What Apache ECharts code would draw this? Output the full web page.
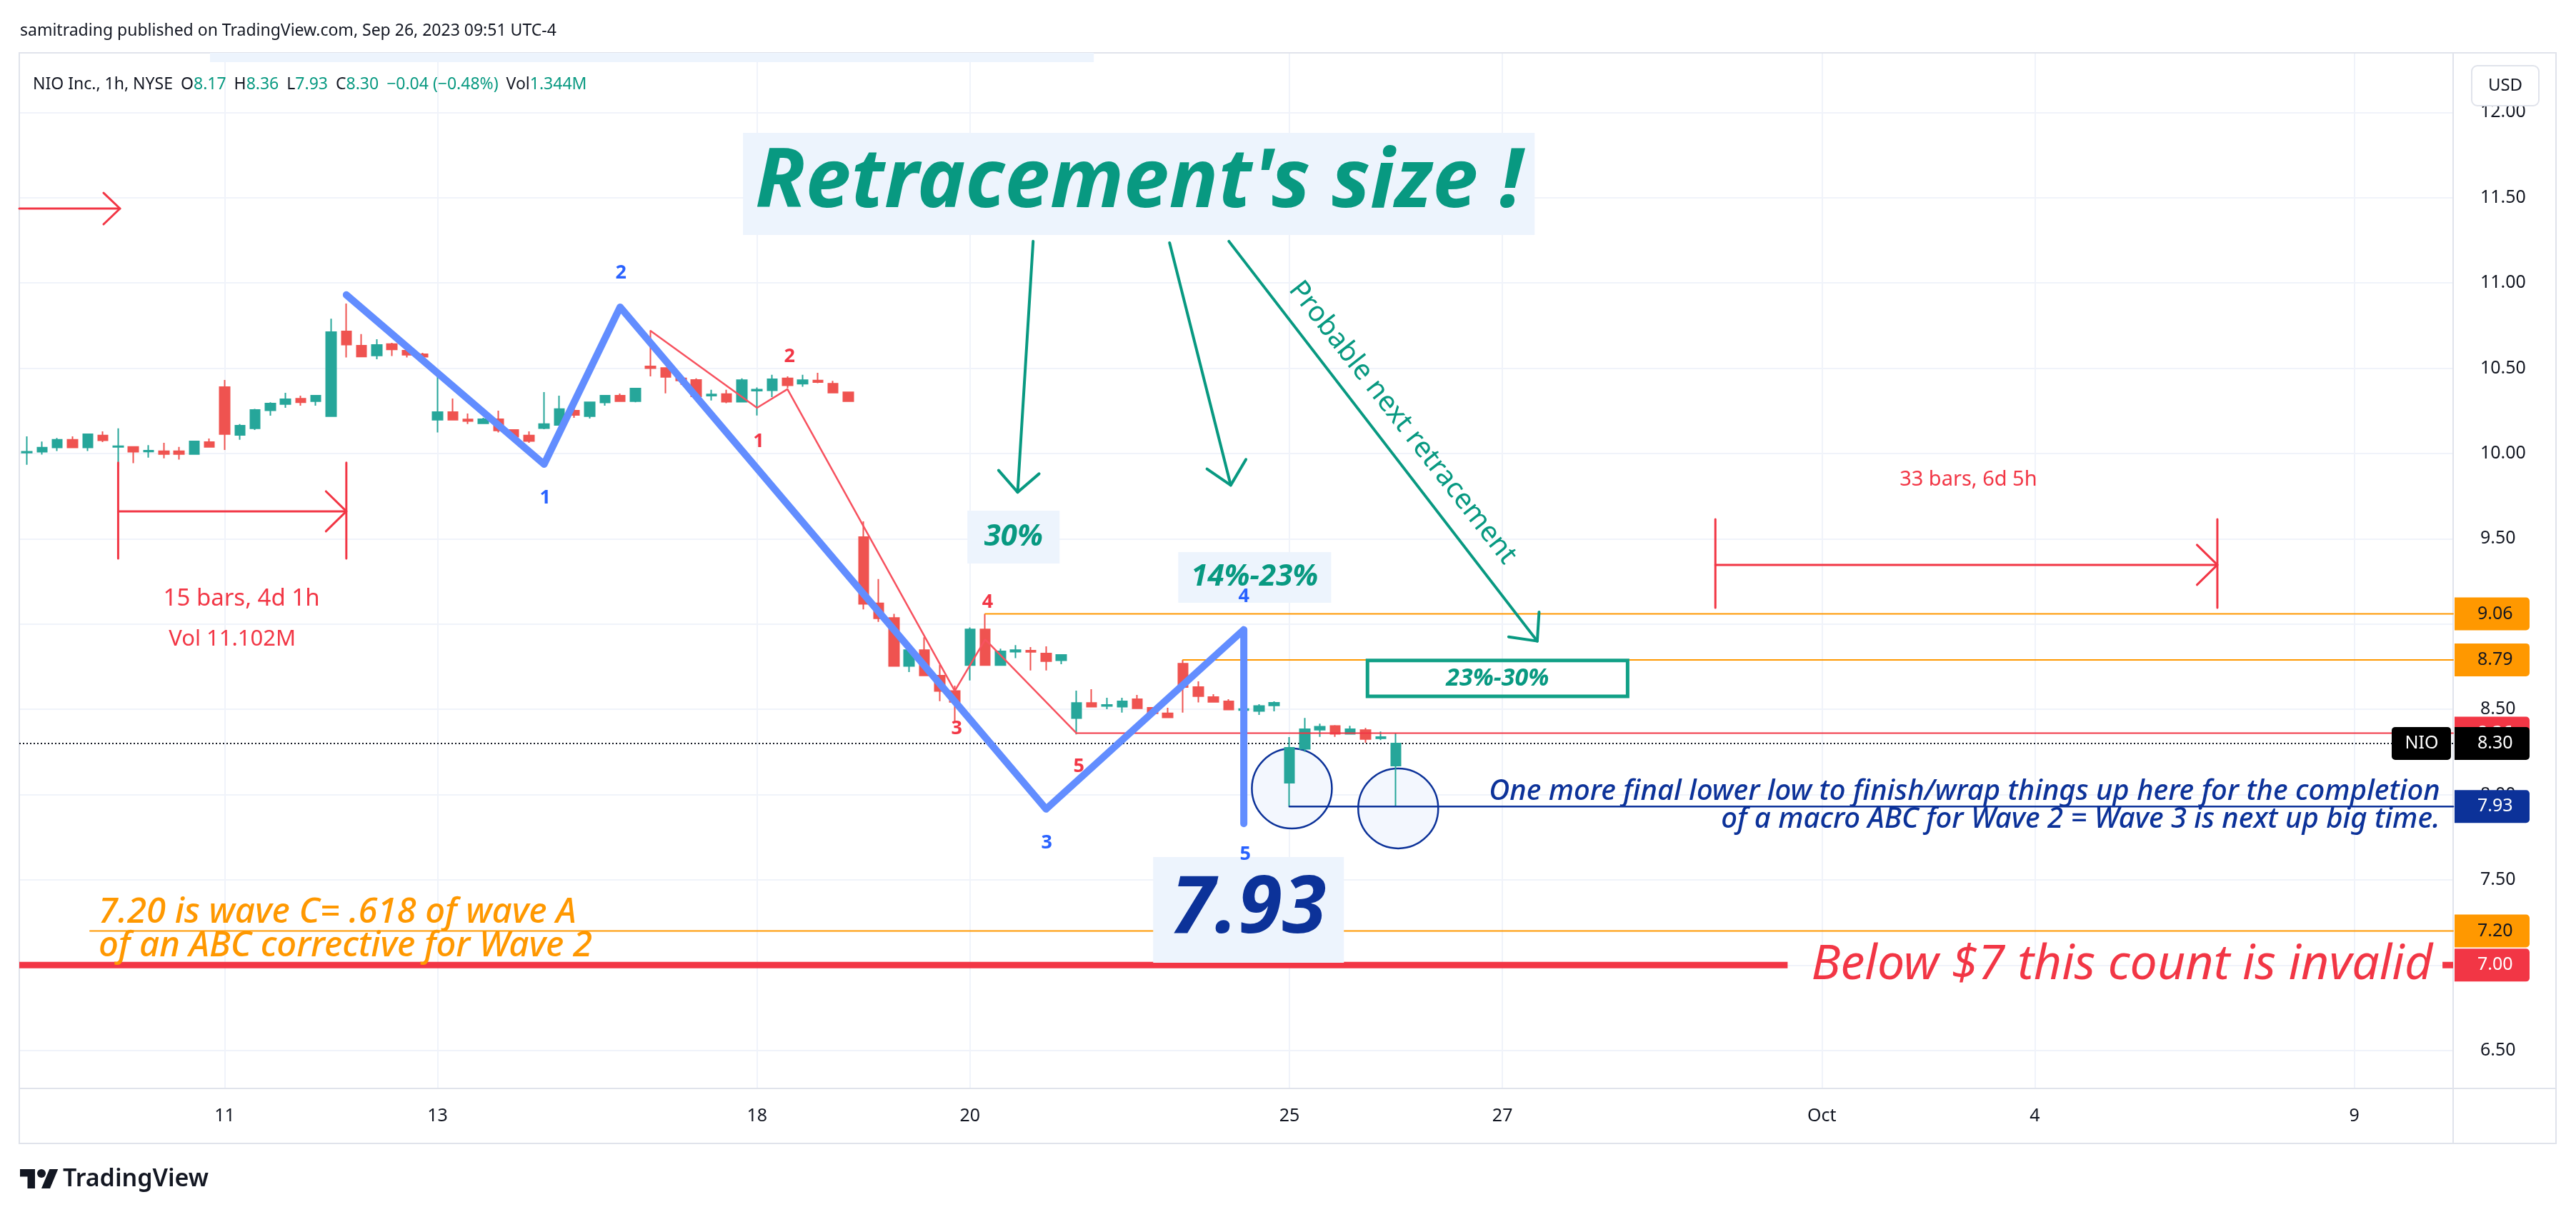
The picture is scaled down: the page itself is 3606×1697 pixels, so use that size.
<!DOCTYPE html>
<html><head><meta charset="utf-8">
<script src="https://cdn.jsdelivr.net/npm/echarts@6/dist/echarts.min.js"></script>
<style>html,body{margin:0;padding:0;background:#fff;}#c{width:3606px;height:1697px;}</style>
</head><body><div id="c"></div>
<script>
// ---------- data ----------
const tickIdx    = [13, 27, 48, 62, 83, 97, 118, 132, 153];
const tickLabels = ['11', '13', '18', '20', '25', '27', 'Oct', '4', '9'];
const priceTicks = [6.5, 7, 7.5, 8, 8.5, 9, 9.5, 10, 10.5, 11, 11.5, 12];

const open = [10.005,10.010,10.035,10.080,10.035,10.105,10.038,10.038,10.011,10.013,
  10.013,9.997,10.067,10.389,10.109,10.147,10.253,10.290,10.321,10.306,
  10.219,10.716,10.632,10.575,10.641,10.603,10.582,10.198,10.243,10.200,
  10.177,10.201,10.138,10.105,10.148,10.167,10.251,10.219,10.299,10.339,
  10.306,10.511,10.501,10.440,10.431,10.339,10.348,10.303,10.368,10.370,
  10.440,10.409,10.428,10.409,10.359,9.510,9.121,9.036,8.754,8.847,
  8.697,8.607,8.759,8.969,8.759,8.838,8.844,8.827,8.787,8.448,
  8.537,8.519,8.515,8.559,8.509,8.477,8.768,8.630,8.572,8.547,
  8.495,8.490,8.523,8.069,8.268,8.380,8.402,8.356,8.378,8.330,
  8.170];
const close = [10.010,10.034,10.080,10.035,10.113,10.077,10.043,10.010,10.017,9.997,
  9.997,10.071,10.039,10.114,10.163,10.255,10.293,10.318,10.300,10.339,
  10.712,10.638,10.568,10.636,10.610,10.579,10.567,10.243,10.198,10.190,
  10.201,10.135,10.098,10.073,10.172,10.260,10.226,10.300,10.339,10.306,
  10.381,10.500,10.449,10.428,10.335,10.346,10.303,10.430,10.375,10.435,
  10.400,10.430,10.419,10.357,10.307,9.118,9.034,8.754,8.847,8.698,
  8.607,8.544,8.969,8.759,8.840,8.847,8.837,8.782,8.819,8.537,
  8.515,8.526,8.547,8.506,8.477,8.452,8.630,8.577,8.544,8.498,
  8.502,8.519,8.538,8.275,8.383,8.398,8.356,8.383,8.326,8.337,
  8.300];
const low = [9.934,9.993,10.014,10.035,10.014,10.067,9.923,9.943,9.976,9.972,
  9.964,9.992,10.039,10.021,10.080,10.138,10.222,10.268,10.280,10.280,
  10.219,10.563,10.568,10.553,10.571,10.563,10.554,10.123,10.198,10.172,
  10.172,10.123,10.081,10.063,10.142,10.167,10.209,10.205,10.280,10.306,
  10.300,10.452,10.353,10.403,10.311,10.311,10.295,10.303,10.223,10.331,
  10.384,10.391,10.412,10.357,10.307,9.086,9.013,8.754,8.718,8.698,
  8.548,8.425,8.669,8.759,8.759,8.800,8.728,8.728,8.764,8.353,
  8.515,8.501,8.481,8.506,8.463,8.452,8.481,8.540,8.540,8.498,
  8.453,8.467,8.488,7.930,8.251,8.338,8.338,8.356,8.304,8.320,
  7.930];
const high = [10.100,10.070,10.091,10.100,10.113,10.130,10.147,10.040,10.049,10.063,
  10.038,10.071,10.088,10.431,10.172,10.261,10.300,10.356,10.339,10.339,
  10.790,10.879,10.700,10.670,10.649,10.618,10.590,10.461,10.322,10.234,
  10.209,10.251,10.142,10.130,10.360,10.339,10.272,10.300,10.339,10.352,
  10.381,10.720,10.501,10.458,10.440,10.373,10.373,10.440,10.387,10.461,
  10.452,10.461,10.473,10.426,10.359,9.602,9.264,9.060,8.879,8.923,
  8.760,8.639,8.980,9.060,8.855,8.876,8.865,8.869,8.819,8.609,
  8.618,8.568,8.568,8.584,8.509,8.509,8.790,8.664,8.589,8.559,
  8.523,8.530,8.547,8.337,8.449,8.416,8.407,8.403,8.391,8.370,
  8.360];

// drawings (bar index, price)
const blueWave = [[21,10.93],[34,9.937],[39,10.858],[67,7.915],[80,8.967],[80,7.83]];
const redWave  = [[41,10.719],[48,10.268],[50,10.377],[61,8.608],[63,8.909],[69,8.36]];
const levels = { r906: 9.06, r879: 8.79, s836: 8.36, last: 8.30, low793: 7.93, c720: 7.20, inv700: 7.00 };
const circles = [[83.16, 8.036], [90.15, 7.919]];

// ---------- chart ----------
const F = '"Noto Sans", "Open Sans", sans-serif';
const TEAL = '#089981', RED = '#f23645', ORANGE = '#ff9800', NAVY = '#0c3299', BLUE = '#628dff';
const XMIN = -0.5, XMAX = 159.5, YMIN = 6.277, YMAX = 12.349;

const chart = echarts.init(document.getElementById('c'), null, { renderer: 'canvas', width: 3606, height: 1697 });

function seg(pts, color, width, extra) {
  return Object.assign({ type: 'line', data: pts, symbol: 'none', showSymbol: false, silent: true,
    animation: false, z: 5, lineStyle: { color: color, width: width, cap: 'round', join: 'round' } }, extra || {});
}

const candleData = open.map((o, i) => [i, o, close[i], low[i], high[i]]);

const series = [
  { type: 'scatter', data: circles, symbolSize: 112, silent: true, z: 1, animation: false,
    itemStyle: { color: '#f3f7fe', borderColor: NAVY, borderWidth: 2.5, opacity: 1 } },
  { type: 'candlestick', data: candleData, barWidth: 14, z: 3, animation: false,
    itemStyle: { color: '#26a69a', color0: '#ef5350', borderColor: '#26a69a', borderColor0: '#ef5350', borderWidth: 2 } },
  seg([[XMIN, levels.last], [XMAX, levels.last]], '#131722', 2, { z: 2, lineStyle: { color: '#131722', width: 2, type: [2, 3] } }),
  seg([[63, levels.r906], [XMAX, levels.r906]], ORANGE, 2),
  seg([[76, levels.r879], [XMAX, levels.r879]], ORANGE, 2),
  seg([[4.15, levels.c720], [XMAX, levels.c720]], ORANGE, 2),
  seg([[69, levels.s836], [XMAX, levels.s836]], RED, 2),
  seg([[83, levels.low793], [XMAX, levels.low793]], NAVY, 2.5),
  seg([[XMIN, levels.inv700], [115.75, levels.inv700]], RED, 9, { lineStyle: { color: RED, width: 9, cap: 'butt' } }),
  seg([[158.8, levels.inv700], [XMAX, levels.inv700]], RED, 9, { lineStyle: { color: RED, width: 9, cap: 'butt' } }),
  seg(redWave, '#f7525f', 2.5),
  seg(blueWave, BLUE, 10, { z: 6 }),
  seg([[6, 9.946], [6, 9.384]], RED, 3),
  seg([[21, 9.946], [21, 9.384]], RED, 3),
  seg([[6, 9.661], [21, 9.661]], RED, 3),
  seg([[19.66, 9.778], [21, 9.661], [19.66, 9.544]], RED, 3),
  seg([[111, 9.615], [111, 9.095]], RED, 3),
  seg([[144, 9.615], [144, 9.095]], RED, 3),
  seg([[111, 9.347], [144, 9.347]], RED, 3),
  seg([[142.66, 9.464], [144, 9.347], [142.66, 9.23]], RED, 3),
  seg([[XMIN, 11.436], [6.12, 11.436]], RED, 3),
  seg([[5.04, 11.528], [6.12, 11.436], [5.04, 11.344]], RED, 3),
  seg([[66.15, 11.244], [65.13, 9.773]], TEAL, 4),
  seg([[63.88, 9.901], [65.13, 9.773], [66.54, 9.881]], TEAL, 4),
  seg([[75.12, 11.235], [79.14, 9.814]], TEAL, 4),
  seg([[77.58, 9.909], [79.14, 9.814], [80.14, 9.965]], TEAL, 4),
  seg([[79.02, 11.244], [99.29, 8.90]], TEAL, 4),
  seg([[97.41, 8.925], [99.29, 8.90], [99.41, 9.07]], TEAL, 4)
];

const option = {
  animation: false,
  backgroundColor: '#ffffff',
  grid: { left: 27, right: 172, top: 74, bottom: 173, show: false },
  xAxis: {
    type: 'value', min: XMIN, max: XMAX,
    axisLine: { show: false }, axisTick: { show: false, customValues: tickIdx },
    axisLabel: { customValues: tickIdx, margin: 26, color: '#131722', fontSize: 25, fontFamily: F,
      formatter: v => tickLabels[tickIdx.indexOf(Math.round(v))] },
    splitLine: { show: true, lineStyle: { color: '#f0f3fa', width: 2 } }
  },
  yAxis: {
    type: 'value', position: 'right', min: YMIN, max: YMAX, scale: true,
    axisLine: { show: false }, axisTick: { show: false, customValues: priceTicks },
    axisLabel: { customValues: priceTicks, margin: 38, align: 'left', color: '#131722', fontSize: 25, fontFamily: F,
      formatter: v => v.toFixed(2) },
    splitLine: { show: true, lineStyle: { color: '#f0f3fa', width: 2 } }
  },
  series: series
};
chart.setOption(option);

// ---------- annotations (placed through the chart's own scales) ----------
const P = (x, y) => chart.convertToPixel({ gridIndex: 0 }, [x, y]);
const els = [];
function text(x, y, str, font, fill, align, valign, extra) {
  const e = { type: 'text', z: 60, silent: true,
    style: { text: str, x: x, y: y, font: font, fill: fill, align: align || 'center', verticalAlign: valign || 'middle',
      textAlign: align || 'center', textVerticalAlign: valign || 'middle' } };
  return Object.assign(e, extra || {});
}
function box(a, b, style, z) {
  const p1 = P(a[0], a[1]), p2 = P(b[0], b[1]);
  els.push({ type: 'rect', z: z || 40, silent: true,
    shape: { x: Math.min(p1[0], p2[0]), y: Math.min(p1[1], p2[1]), width: Math.abs(p2[0] - p1[0]), height: Math.abs(p2[1] - p1[1]) },
    style: style });
}
function note(at, str, font, fill, align, valign, extra) {
  const p = P(at[0], at[1]);
  els.push(text(p[0], p[1], str, font, fill, align, valign, extra));
}
const BOXBG = '#edf4fd';
const plotL = P(XMIN, YMAX)[0], plotR = P(XMAX, YMAX)[0], plotT = P(XMIN, YMAX)[1], plotB = P(XMIN, YMIN)[1];

// frame
els.push({ type: 'rect', z: 1, silent: true, shape: { x: plotL, y: plotT, width: 3578 - plotL, height: 1601 - plotT },
  style: { fill: 'none', stroke: '#e0e3eb', lineWidth: 2 } });
els.push({ type: 'line', z: 1, silent: true, shape: { x1: plotR, y1: plotT, x2: plotR, y2: 1601 }, style: { stroke: '#e0e3eb', lineWidth: 2 } });
els.push({ type: 'line', z: 1, silent: true, shape: { x1: plotL, y1: plotB, x2: 3578, y2: plotB }, style: { stroke: '#e0e3eb', lineWidth: 2 } });

// header
els.push(text(28, 43, 'samitrading published on TradingView.com, Sep 26, 2023 09:51 UTC-4', '23px ' + F, '#131722', 'left'));
els.push({ type: 'text', z: 60, silent: true, style: {
  text: '{k|NIO Inc., 1h, NYSE}{s| }{k|O}{v|' + open[90].toFixed(2) + '}{s| }{k|H}{v|' + high[90].toFixed(2) + '}{s| }{k|L}{v|' + low[90].toFixed(2) +
        '}{s| }{k|C}{v|' + close[90].toFixed(2) + '}{s| }{v|\u22120.04 (\u22120.48%)}{s| }{k|Vol}{v|1.344M}',
  x: 46, y: 118, align: 'left', verticalAlign: 'middle', textAlign: 'left', textVerticalAlign: 'middle',
  rich: { k: { fill: '#131722', font: '23px ' + F }, v: { fill: TEAL, font: '23px ' + F }, s: { font: '23px ' + F, width: 11 } } } });
box([12.04, 12.295], [70.14, YMAX], { fill: BOXBG }, 30);

// USD button
els.push({ type: 'rect', z: 70, silent: true, shape: { x: 3460, y: 92, width: 94, height: 56, r: 8 }, style: { fill: '#fff', stroke: '#e0e3eb', lineWidth: 2 } });
els.push(text(3507, 120, 'USD', '24px ' + F, '#131722', 'center', 'middle', { z: 71 }));

// TradingView logo
(function () {
  const s = 1.5, ox = 28, oy = 1631;
  const tr = pts => pts.map(p => [ox + p[0] * s, oy + p[1] * s]);
  els.push({ type: 'polygon', z: 60, silent: true, shape: { points: tr([[0,4],[14,4],[14,22],[7,22],[7,11],[0,11]]) }, style: { fill: '#131722' } });
  els.push({ type: 'polygon', z: 60, silent: true, shape: { points: tr([[20,22],[27.5,4],[35.5,4],[28,22]]) }, style: { fill: '#131722' } });
  els.push({ type: 'circle', z: 60, silent: true, shape: { cx: ox + 20 * s, cy: oy + 8 * s, r: 4 * s }, style: { fill: '#131722' } });
})();
els.push(text(88, 1651, 'TradingView', '600 34px ' + F, '#131722', 'left'));

// text boxes
box([47.08, 11.880], [99.12, 11.281], { fill: BOXBG });
note([73.1, 11.579], "Retracement's size !", 'italic bold 114px ' + F, TEAL);
box([61.83, 9.665], [67.89, 9.355], { fill: BOXBG });
note([64.86, 9.51], '30%', 'italic bold 42px ' + F, TEAL);
box([75.69, 9.422], [85.74, 9.125], { fill: BOXBG });
note([80.71, 9.276], '14%-23%', 'italic bold 42px ' + F, TEAL);
box([74.04, 7.634], [86.58, 7.014], { fill: BOXBG });
note([80.31, 7.324], low[90].toFixed(2), 'italic bold 112px ' + F, NAVY);
box([88.13, 8.786], [105.23, 8.576], { fill: 'none', stroke: '#11a086', lineWidth: 5 });
note([96.68, 8.681], '23%-30%', 'italic bold 34px ' + F, TEAL);

// wave numbers
const NF = 'bold 27px ' + F;
[[50.13, 10.57, '2'], [48.11, 10.071, '1'], [61.13, 8.388, '3'], [63.15, 9.129, '4'], [69.16, 8.166, '5']]
  .forEach(n => note([n[0], n[1]], n[2], NF, RED));
[[34.07, 9.74, '1'], [39.05, 11.059, '2'], [67.04, 7.718, '3'], [80.0, 9.163, '4'], [80.1, 7.651, '5']]
  .forEach(n => note([n[0], n[1]], n[2], NF, '#2962ff'));

// measurement texts
note([14.11, 9.146], '15 bars, 4d 1h', '33px ' + F, RED);
note([13.5, 8.911], 'Vol 11.102M', '31px ' + F, RED);
note([127.63, 9.847], '33 bars, 6d 5h', '29px ' + F, RED);

// comments
note([158.64, 8.017], 'One more final lower low to finish/wrap things up here for the completion', 'italic 500 40px ' + F, NAVY, 'right');
note([158.64, 7.853], 'of a macro ABC for Wave 2 = Wave 3 is next up big time.', 'italic 500 40px ' + F, NAVY, 'right');
note([4.71, 7.305], '7.20 is wave C= .618 of wave A', 'italic 500 49px ' + F, ORANGE, 'left');
note([4.71, 7.112], 'of an ABC corrective for Wave 2', 'italic 500 49px ' + F, ORANGE, 'left');
note([137.73, 7.0], 'Below $7 this count is invalid', 'italic 68px ' + F, RED);
(function () {
  const p = P(90.43, 10.18);
  els.push({ type: 'text', z: 60, silent: true, x: p[0], y: p[1], rotation: -51.9 * Math.PI / 180,
    style: { text: 'Probable next retracement', x: 0, y: 0, font: '39px ' + F, fill: TEAL,
      align: 'center', verticalAlign: 'middle', textAlign: 'center', textVerticalAlign: 'middle' } });
})();

// price-axis badges (later ones drawn on top)
const badges = [
  [levels.r906, ORANGE, '#131722'], [levels.r879, ORANGE, '#131722'], [levels.s836, RED, '#fff'],
  [levels.last, '#000', '#fff'], [levels.low793, NAVY, '#fff'], [levels.c720, ORANGE, '#131722'], [levels.inv700, RED, '#fff']
];
badges.forEach((b, i) => {
  const y = P(XMAX, b[0])[1];
  els.push({ type: 'rect', z: 80 + 2 * i, silent: true, shape: { x: plotR + 2, y: y - 23, width: 105, height: 46, r: [0, 5, 5, 0] }, style: { fill: b[1] } });
  els.push(text(plotR + 34, y, b[0].toFixed(2), '25px ' + F, b[2], 'left', 'middle', { z: 81 + 2 * i }));
});
(function () {
  const y = P(XMAX, levels.last)[1];
  els.push({ type: 'rect', z: 100, silent: true, shape: { x: plotR - 86, y: y - 23, width: 83, height: 46, r: 5 }, style: { fill: '#000' } });
  els.push(text(plotR - 44, y, 'NIO', '25px ' + F, '#fff', 'center', 'middle', { z: 101 }));
})();

chart.setOption({ graphic: { elements: els } });
</script></body></html>
